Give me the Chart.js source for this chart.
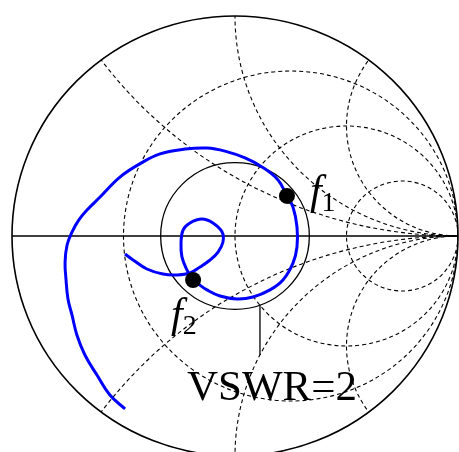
<!DOCTYPE html>
<html>
<head>
<meta charset="utf-8">
<script src="https://cdn.jsdelivr.net/npm/chart.js@4"></script>
<style>
  html, body { margin: 0; padding: 0; background: #fff; }
  canvas { display: block; }
</style>
</head>
<body>
<canvas id="smith" width="459" height="452"></canvas>
<script>
// smith chart grid values
const resistanceCircles = [1 / 3, 1, 3];
const reactanceArcs = [0.5, 1, 2, -0.5, -1, -2];
const vswrValue = 2;

// reflection coefficient trace (real / imaginary part)
const traceRe = [-0.493, -0.561, -0.619, -0.673, -0.709, -0.731, -0.749, -0.758, -0.762, -0.753,
    -0.731, -0.700, -0.659, -0.605, -0.516, -0.413, -0.336, -0.224, -0.126, -0.045,
    0.045, 0.121, 0.193, 0.233, 0.260, 0.278, 0.278, 0.260, 0.215, 0.157,
    0.081, 0.009, -0.067, -0.126, -0.170, -0.188, -0.215, -0.238, -0.242, -0.233,
    -0.202, -0.148, -0.099, -0.058, -0.054, -0.076, -0.112, -0.157, -0.202, -0.260,
    -0.323, -0.395, -0.457, -0.493];
const traceIm = [-0.786, -0.723, -0.632, -0.541, -0.450, -0.359, -0.286, -0.195, -0.118, -0.041,
    0.018, 0.073, 0.123, 0.177, 0.268, 0.336, 0.373, 0.395, 0.400, 0.386,
    0.355, 0.314, 0.255, 0.182, 0.132, 0.041, -0.050, -0.123, -0.200, -0.245,
    -0.277, -0.286, -0.273, -0.245, -0.214, -0.200, -0.155, -0.095, -0.032, 0.027,
    0.059, 0.077, 0.059, 0.018, -0.027, -0.073, -0.109, -0.141, -0.168, -0.177,
    -0.173, -0.150, -0.109, -0.082];

// marked frequencies
const markerRe = [0.233, -0.188];
const markerIm = [0.182, -0.200];
const markerNames = ['1', '2'];

function toPoints(re, im) {
    return re.map((u, i) => ({ x: u, y: im[i] }));
}

function ellipseAt(ctx, xs, ys, cu, cv, rad) {
    let sx = xs.getPixelForValue(1) - xs.getPixelForValue(0);
    let sy = ys.getPixelForValue(0) - ys.getPixelForValue(1);
    ctx.beginPath();
    ctx.ellipse(xs.getPixelForValue(cu), ys.getPixelForValue(cv), rad * sx, rad * sy, 0, 0, Math.PI * 2);
}

const smithGrid = {
    id: 'smithGrid',
    beforeDatasetsDraw(chart) {
        const ctx = chart.ctx;
        const xs = chart.scales.x, ys = chart.scales.y;
        ctx.save();
        ctx.strokeStyle = '#000';

        // dashed grid, clipped to the unit circle
        ctx.save();
        ellipseAt(ctx, xs, ys, 0, 0, 1);
        ctx.clip();
        ctx.setLineDash([4, 3]);
        ctx.lineWidth = 1.1;
        resistanceCircles.forEach(r => {
            ellipseAt(ctx, xs, ys, r / (1 + r), 0, 1 / (1 + r));
            ctx.stroke();
        });
        reactanceArcs.forEach(x => {
            ellipseAt(ctx, xs, ys, 1, 1 / x, 1 / Math.abs(x));
            ctx.stroke();
        });
        ctx.restore();

        // outer circle, real axis, vswr circle
        ctx.lineWidth = 1.6;
        ellipseAt(ctx, xs, ys, 0, 0, 1);
        ctx.stroke();
        ctx.lineWidth = 1.3;
        ctx.beginPath();
        ctx.moveTo(xs.getPixelForValue(-1), ys.getPixelForValue(0));
        ctx.lineTo(xs.getPixelForValue(1), ys.getPixelForValue(0));
        ctx.stroke();
        let gamma = (vswrValue - 1) / (vswrValue + 1);
        ellipseAt(ctx, xs, ys, 0, 0, gamma);
        ctx.stroke();

        // pointer to the vswr label
        let pu = 0.112;
        let pv = -Math.sqrt(gamma * gamma - pu * pu);
        ctx.beginPath();
        ctx.moveTo(xs.getPixelForValue(pu), ys.getPixelForValue(pv));
        ctx.lineTo(xs.getPixelForValue(pu), ys.getPixelForValue(-0.541));
        ctx.stroke();
        ctx.restore();
    },
    afterDatasetsDraw(chart) {
        const ctx = chart.ctx;
        const xs = chart.scales.x, ys = chart.scales.y;
        ctx.save();
        ctx.fillStyle = '#000';
        ctx.textBaseline = 'alphabetic';

        ctx.font = '43px "Liberation Serif", "Times New Roman", serif';
        ctx.fillText('VSWR=' + vswrValue, xs.getPixelForValue(-0.215), ys.getPixelForValue(-0.745));

        let offsets = [[23, 8], [-22, 47]];
        markerNames.forEach((name, i) => {
            let px = xs.getPixelForValue(markerRe[i]) + offsets[i][0];
            let py = ys.getPixelForValue(markerIm[i]) + offsets[i][1];
            ctx.font = 'italic 42px "Liberation Serif", "Times New Roman", serif';
            ctx.fillText('f', px, py);
            let w = ctx.measureText('f').width;
            ctx.font = '28px "Liberation Serif", "Times New Roman", serif';
            ctx.fillText(name, px + w, py + 7);
        });
        ctx.restore();
    }
};

const chartConfig = {
    type: 'scatter',
    data: {
        datasets: [
            {
                label: 'markers',
                data: toPoints(markerRe, markerIm),
                pointRadius: 8,
                pointBackgroundColor: '#000',
                pointBorderWidth: 0,
                showLine: false
            },
            {
                label: 'trace',
                data: toPoints(traceRe, traceIm),
                showLine: true,
                borderColor: '#0000ff',
                borderWidth: 3,
                pointRadius: 0,
                tension: 0.4,
                fill: false
            }
        ]
    },
    options: {
        responsive: false,
        animation: false,
        layout: { padding: 0, autoPadding: false },
        plugins: {
            legend: { display: false },
            tooltip: { enabled: false },
            title: { display: false }
        },
        scales: {
            x: { type: 'linear', display: false, min: -1.0538, max: 1.0045 },
            y: { type: 'linear', display: false, min: -0.9818, max: 1.0727 }
        }
    },
    plugins: [smithGrid]
};

new Chart(document.getElementById('smith'), chartConfig);
</script>
</body>
</html>
